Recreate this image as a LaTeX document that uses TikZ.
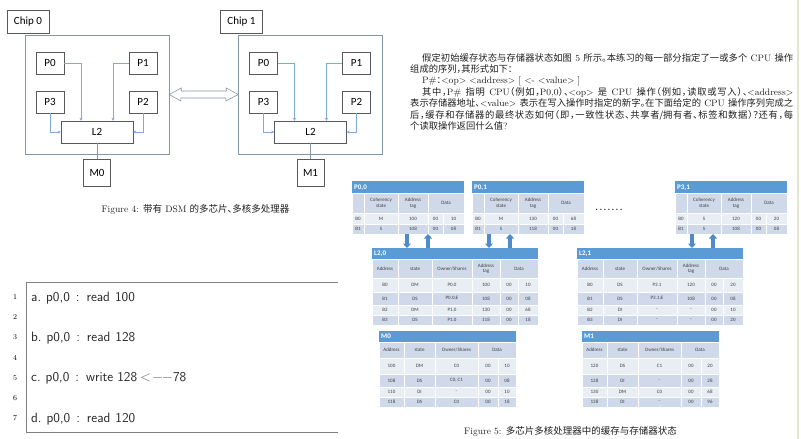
\documentclass[tikz,border=0pt]{standalone}
\usepackage{fontspec}
\usepackage{tikz}
\usetikzlibrary{arrows.meta,positioning}
\newfontfamily\cjk[RawFeature=+halt]{Noto Sans CJK SC}
\newfontfamily\calibri{Carlito}
\newcommand{\zw}[1]{{\cjk #1}}
% stretchable glue between Chinese characters, so that full lines can be justified
\XeTeXinterchartokenstate=1
\newXeTeXintercharclass\hanclass
\count255="3000
\loop \XeTeXcharclass\count255=\hanclass \ifnum\count255<"303F \advance\count255 by 1 \repeat
\count255="4E00
\loop \XeTeXcharclass\count255=\hanclass \ifnum\count255<"9FFF \advance\count255 by 1 \repeat
\count255="FF00
\loop \XeTeXcharclass\count255=\hanclass \ifnum\count255<"FF60 \advance\count255 by 1 \repeat
\XeTeXinterchartoks\hanclass\hanclass={\hskip0pt plus 1pt minus 0.3pt\relax}

\definecolor{cbar}{HTML}{5B9BD5}
\definecolor{carrow}{HTML}{4E8BC8}
\definecolor{cdark}{HTML}{CFD9EA}
\definecolor{clight}{HTML}{E9EDF4}
\definecolor{ctxt}{HTML}{404040}
\definecolor{cchip}{HTML}{8497A8}
\definecolor{cbus}{HTML}{7FA9DB}
\definecolor{crule}{HTML}{E4E6CF}
\definecolor{cbody}{HTML}{1E1E1E}

\tikzset{
  chiplabel/.style={draw=black!65, minimum width=42pt, minimum height=23pt, inner sep=0pt,
    font=\calibri\fontsize{11}{12}\selectfont},
  chipframe/.style={draw=cchip, minimum width=144pt, minimum height=119pt, inner sep=0pt},
  pbox/.style={draw=black!65, minimum width=28pt, minimum height=22pt, inner sep=0pt,
    font=\calibri\fontsize{11}{12}\selectfont},
  l2box/.style={pbox, minimum width=72pt},
  membox/.style={pbox, minimum width=27pt, minimum height=27pt},
  bus/.style={draw=cbus, line width=0.5pt, -{Stealth[length=3pt,width=3pt]}},
  membus/.style={draw=cchip, line width=0.5pt},
  linkarrow/.style={draw=cchip, fill=white, line width=0.6pt},
  tabbar/.style={anchor=north west, fill=cbar, text=white, inner sep=2pt, align=left,
    font=\calibri\bfseries\fontsize{7}{8}\selectfont},
  cell/.style={draw=white, line width=0.7pt},
  cellrule/.style={draw=white, line width=0.7pt},
  celltxt/.style={text=ctxt, inner sep=0pt, align=center, font=\calibri\fontsize{5}{5.6}\selectfont},
  fatarrow/.style={draw=carrow, line width=3.2pt, -{Triangle[width=8pt,length=4.5pt]}},
  para/.style={anchor=base west, inner sep=0pt, text=cbody, font=\fontsize{9.3}{11}\selectfont},
  caption/.style={inner sep=0pt, text=cbody, font=\fontsize{9.5}{11}\selectfont},
  listframe/.style={draw=black!50, line width=0.8pt},
  lineno/.style={anchor=base, inner sep=0pt, font=\fontsize{7.5}{8}\selectfont},
  codetxt/.style={anchor=base west, inner sep=0pt, text=black!85, font=\sffamily\fontsize{13.5}{15}\selectfont},
  ellipsisdots/.style={inner sep=0pt, font=\bfseries\fontsize{8}{9}\selectfont},
  pagerule/.style={draw=crule, line width=1.5pt}
}

\begin{document}
\begin{tikzpicture}[x=1pt, y=-1pt]
\useasboundingbox (0,0) rectangle (801,439);

% the two chips
\foreach \i/\dx in {0/0, 1/213.5}{
  \begin{scope}[xshift=\dx]
    \node[chiplabel] (chip\i) at (28,21.5) {Chip \i};
    \node[chipframe] (frame\i) at (97,94.5) {};
    \node[pbox] (c\i-p0) at (50,63) {P0};
    \node[pbox] (c\i-p1) at (143,63) {P1};
    \node[pbox] (c\i-p3) at (50,102) {P3};
    \node[pbox] (c\i-p2) at (143,102) {P2};
    \node[l2box] (c\i-l2) at (97,132) {L2};
    \node[membox, below=16pt of c\i-l2] (mem\i) {M\i};
    \draw[bus] (c\i-p0.east) -| ([xshift=-16pt]c\i-l2.north);
    \draw[bus] (c\i-p1.west) -| ([xshift=16pt]c\i-l2.north);
    \draw[bus] (c\i-p3.south) |- (c\i-l2.west);
    \draw[bus] (c\i-p2.south) |- (c\i-l2.east);
    \draw[membus] (c\i-l2.south) -- (mem\i.north);
  \end{scope}
}
\draw[linkarrow] (frame0.east) -- ++(12,-6.5) -- ++(0,3) -- ++(45,0) -- ++(0,-3)
  -- (frame1.west) -- ++(-12.5,6.5) -- ++(0,-3) -- ++(-45,0) -- ++(0,3) -- cycle;
\node[caption] (fig4) at (195.5,209) {Figure 4: \zw{带有} DSM \zw{的多芯片、多核多处理器}};

% exercise text
\node[para] (t1) at (422,61) {\hbox to 371pt{\zw{假定初始缓存状态与存储器状态如图} 5 \zw{所示。本练习的每一部分指定了一或多个} CPU \zw{操作}}};
\node[para] (t2) at (410,72.4) {\zw{组成的序列，其形式如下：}};
\node[para] (t3) at (422,83.8) {P\#\zw{：}<op> <address> [ <- <value> ]};
\node[para] (t4) at (422,95.2) {\hbox to 371pt{\zw{其中，}P\# \zw{指明} CPU\zw{（例如，}P0,0\zw{）、}<op> \zw{是} CPU \zw{操作（例如，读取或写入）、}<address>}};
\node[para] (t5) at (410,106.6) {\hbox to 383pt{\zw{表示存储器地址、}<value> \zw{表示在写入操作时指定的新字。在下面给定的} CPU \zw{操作序列完成之}}};
\node[para] (t6) at (410,118) {\hbox to 383pt{\zw{后，缓存和存储器的最终状态如何（即，一致性状态、共享者/拥有者、标签和数据）？还有，每}}};
\node[para] (t7) at (410,129.4) {\zw{个读取操作返回什么值}?};

% private caches
\foreach \x/\nm/\lab/\sta/\tga/\dta/\stb/\tgb/\dtb in
  {352/tp00/{P0,0}/M/100/10/S/108/08,
   472/tp01/{P0,1}/M/130/68/S/118/18,
   675/tp31/{P3,1}/S/120/20/S/108/08}{
  \node[tabbar, text width=108pt, minimum height=12pt] (\nm) at (\x,181) {\lab};
  \foreach \y/\hh/\col in {193/20/cdark, 213/11/clight, 224/10/cdark}
    \filldraw[cell, fill=\col] (\x,\y) rectangle ++(112,\hh);
  \foreach \cx in {12,46,76} \draw[cellrule] (\x+\cx,193) -- ++(0,41);
  \draw[cellrule] (\x+91,213) -- ++(0,21);
  \coordinate (\nm-bot) at (\x,234);
  \node[celltxt] (\nm-h1) at (\x+29,203) {Coherency\\state};
  \node[celltxt] (\nm-h2) at (\x+61,203) {Address\\tag};
  \node[celltxt] (\nm-h3) at (\x+94,203) {Data};
  \node[celltxt] (\nm-0a) at (\x+6,218.5) {B0};
  \node[celltxt] (\nm-0b) at (\x+29,218.5) {\sta};
  \node[celltxt] (\nm-0c) at (\x+61,218.5) {\tga};
  \node[celltxt] (\nm-0d) at (\x+83.5,218.5) {00};
  \node[celltxt] (\nm-0e) at (\x+101.5,218.5) {\dta};
  \node[celltxt] (\nm-1a) at (\x+6,229) {B1};
  \node[celltxt] (\nm-1b) at (\x+29,229) {\stb};
  \node[celltxt] (\nm-1c) at (\x+61,229) {\tgb};
  \node[celltxt] (\nm-1d) at (\x+83.5,229) {00};
  \node[celltxt] (\nm-1e) at (\x+101.5,229) {\dtb};
}
\node[ellipsisdots] (gap) at (609,210) {.\,.\,.\,.\,.\,.\,.};

% shared L2 caches
\foreach \x/\nm/\lab/\rows in
  {372/tl20/{L2,0}/{285/B0/DM/P0.0/100/10, 298.5/B1/DS/P0.0;E/108/08, 310/B2/DM/P1.0/130/68, 320/B3/DS/P1.0/118/18},
   577/tl21/{L2,1}/{285/B0/DS/P3.1/120/20, 298.5/B1/DS/P3.1;E/108/08, 310/B2/DI/-/-/10, 320/B3/DI/-/-/20}}{
  \node[tabbar, text width=162pt, minimum height=11pt] (\nm) at (\x,248) {\lab};
  \foreach \y/\hh/\col in {259/19/cdark, 278/14/clight, 292/13/cdark, 305/10/clight, 315/10/cdark}
    \filldraw[cell, fill=\col] (\x,\y) rectangle ++(166,\hh);
  \foreach \cx in {26,60,100,128} \draw[cellrule] (\x+\cx,259) -- ++(0,66);
  \draw[cellrule] (\x+146,278) -- ++(0,47);
  \node[celltxt] (\nm-h1) at (\x+13,268.5) {Address};
  \node[celltxt] (\nm-h2) at (\x+43,268.5) {state};
  \node[celltxt] (\nm-h3) at (\x+80,268.5) {Owner/Shares};
  \node[celltxt] (\nm-h4) at (\x+114,268.5) {Address\\tag};
  \node[celltxt] (\nm-h5) at (\x+147,268.5) {Data};
  \foreach \ry/\bk/\st/\ow/\tg/\dd [count=\rn] in \rows {
    \node[celltxt] (\nm-\rn a) at (\x+13,\ry) {\bk};
    \node[celltxt] (\nm-\rn b) at (\x+43,\ry) {\st};
    \node[celltxt] (\nm-\rn c) at (\x+80,\ry) {\ow};
    \node[celltxt] (\nm-\rn d) at (\x+114,\ry) {\tg};
    \node[celltxt] (\nm-\rn e) at (\x+137,\ry) {00};
    \node[celltxt] (\nm-\rn f) at (\x+156,\ry) {\dd};
  }
}

% memories
\foreach \x/\nm/\lab/\rows in
  {379/tm0/M0/{366/100/DM/C0/10, 380.5/108/DS/{C0, C1}/08, 392/110/DI/-/10, 402/118/DS/C0/18},
   582/tm1/M1/{366/120/DS/C1/20, 380.5/128/DI/-/28, 392/130/DM/C0/68, 402/138/DI/-/96}}{
  \node[tabbar, text width=133pt, minimum height=11pt] (\nm) at (\x,331) {\lab};
  \foreach \y/\hh/\col in {342/16/cdark, 358/16/clight, 374/13/cdark, 387/10/clight, 397/10/cdark}
    \filldraw[cell, fill=\col] (\x,\y) rectangle ++(137,\hh);
  \foreach \cx in {25,56,99} \draw[cellrule] (\x+\cx,342) -- ++(0,65);
  \draw[cellrule] (\x+119,358) -- ++(0,49);
  \node[celltxt] (\nm-h1) at (\x+12.5,350) {Address};
  \node[celltxt] (\nm-h2) at (\x+40.5,350) {state};
  \node[celltxt] (\nm-h3) at (\x+77.5,350) {Owner/Shares};
  \node[celltxt] (\nm-h4) at (\x+118,350) {Data};
  \foreach \ry/\ad/\st/\ow/\dd [count=\rn] in \rows {
    \node[celltxt] (\nm-\rn a) at (\x+12.5,\ry) {\ad};
    \node[celltxt] (\nm-\rn b) at (\x+40.5,\ry) {\st};
    \node[celltxt] (\nm-\rn c) at (\x+77.5,\ry) {\ow};
    \node[celltxt] (\nm-\rn d) at (\x+109,\ry) {00};
    \node[celltxt] (\nm-\rn e) at (\x+128,\ry) {\dd};
  }
}

% requests and replies between the caches
\coordinate (dn1) at (407,0);
\coordinate (up1) at (428,0);
\coordinate (dn2) at (489,0);
\coordinate (up2) at (510,0);
\coordinate (dn3) at (692,0);
\coordinate (up3) at (713,0);
\draw[fatarrow] (dn1 |- tp00-bot) -- (dn1 |- tl20.north);
\draw[fatarrow] (up1 |- tl20.north) -- (up1 |- tp00-bot);
\draw[fatarrow] (dn2 |- tp01-bot) -- (dn2 |- tl20.north);
\draw[fatarrow] (up2 |- tl20.north) -- (up2 |- tp01-bot);
\draw[fatarrow] (dn3 |- tp31-bot) -- (dn3 |- tl21.north);
\draw[fatarrow] (up3 |- tl21.north) -- (up3 |- tp31-bot);
\node[caption] (fig5) at (570.5,431) {Figure 5: \zw{多芯片多核处理器中的缓存与存储器状态}};

% the sequence listing
\draw[listframe] (338,282) -| (26,432) -- (338,432);
\foreach \n in {1,...,7}
  \node[lineno] (num\n) at (15,{299.5+20.2*(\n-1)}) {\n};
\node[codetxt] (la) at (31,301) {a.\hspace{5pt}p0,0\hspace{6pt}:\hspace{7pt}read\hspace{5pt}100};
\node[codetxt] (lb) at (31,341.4) {b.\hspace{5pt}p0,0\hspace{6pt}:\hspace{7pt}read\hspace{5pt}128};
\node[codetxt] (lc) at (31,381.8) {c.\hspace{5pt}p0,0\hspace{6pt}:\hspace{7pt}write\hspace{4pt}128\hspace{3pt}{\color{black!60}$<$\hspace{1pt}$-$\hspace{-1.5pt}$-$}78};
\node[codetxt] (ld) at (31,422.2) {d.\hspace{5pt}p0,0\hspace{6pt}:\hspace{7pt}read\hspace{5pt}120};

\draw[pagerule] (798,0) -- (798,439);
\end{tikzpicture}
\end{document}
